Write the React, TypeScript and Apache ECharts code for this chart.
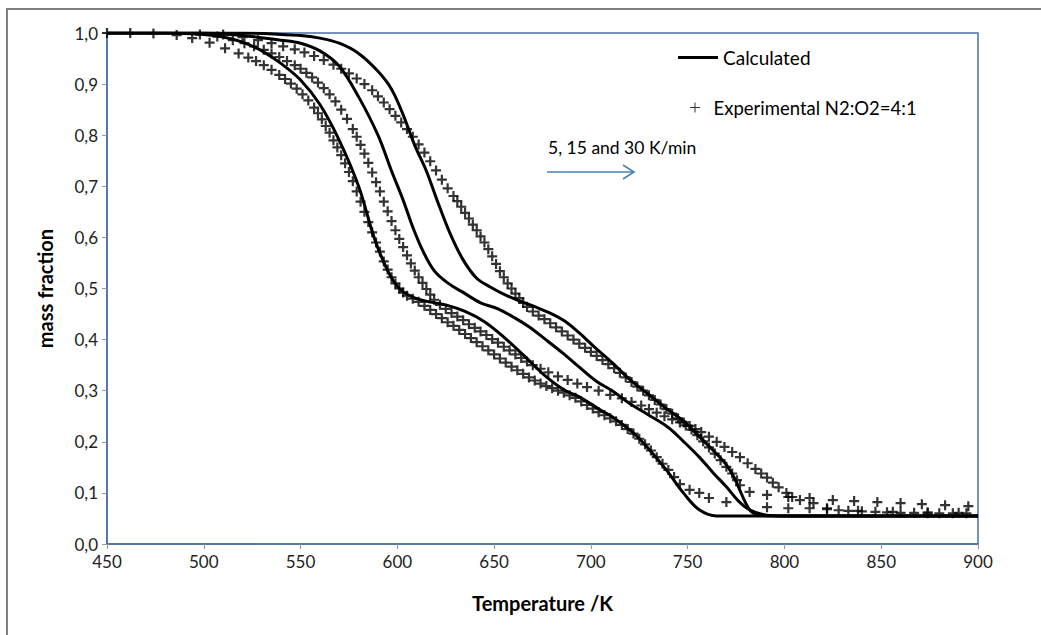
import React, { useEffect, useRef } from "react";
import * as echarts from "echarts";

// Tick labels
const xTicks = [450, 500, 550, 600, 650, 700, 750, 800, 850, 900];
const yTicks = [0, 0.1, 0.2, 0.3, 0.4, 0.5, 0.6, 0.7, 0.8, 0.9, 1.0];

// Calculated curves [T (K), mass fraction]
const calc5: number[][] = [
  [450, 1.0], [480, 1.0], [500, 0.997], [510, 0.992], [520, 0.982], [530, 0.965], [540, 0.94],
  [550, 0.908], [560, 0.86], [570, 0.79], [580, 0.7], [588, 0.6], [595, 0.535], [601, 0.5],
  [608, 0.483], [615, 0.475], [625, 0.468], [635, 0.455], [645, 0.435], [655, 0.405],
  [665, 0.37], [677, 0.327], [686, 0.302], [694, 0.288], [705, 0.262], [711, 0.249],
  [722, 0.217], [729, 0.19], [739, 0.145], [748, 0.099], [756, 0.067], [765, 0.055],
  [800, 0.055], [900, 0.055],
];
const calc15: number[][] = [
  [450, 1.0], [500, 1.0], [520, 0.995], [540, 0.986], [550, 0.98], [560, 0.965], [570, 0.935],
  [580, 0.875], [590, 0.8], [597, 0.73], [603, 0.673], [608, 0.62], [613, 0.575],
  [619, 0.535], [626, 0.511], [635, 0.49], [643, 0.472], [652, 0.46], [660, 0.444],
  [668, 0.425], [677, 0.399], [686, 0.372], [694, 0.346], [703, 0.318], [711, 0.3],
  [720, 0.275], [730, 0.252], [740, 0.228], [748, 0.2], [756, 0.17], [763, 0.14],
  [770, 0.112], [776, 0.085], [782, 0.067], [790, 0.057], [800, 0.055], [900, 0.055],
];
const calc30: number[][] = [
  [450, 1.0], [520, 1.0], [550, 0.995], [560, 0.99], [570, 0.98], [580, 0.96], [590, 0.925],
  [597, 0.89], [603, 0.84], [609, 0.78], [615, 0.73], [620.5, 0.673], [627, 0.61],
  [634, 0.556], [641, 0.52], [648, 0.503], [656, 0.487], [665, 0.473], [672, 0.463],
  [680, 0.45], [687, 0.435], [694, 0.413], [702, 0.385], [711, 0.355], [720, 0.322],
  [729, 0.295], [739, 0.265], [748, 0.24], [756, 0.21], [764, 0.18], [770, 0.155],
  [774, 0.13], [777, 0.105], [780, 0.08], [783, 0.063], [788, 0.056], [800, 0.055], [900, 0.055],
];

// Experimental points [T (K), mass fraction]
const exp5: number[][] = [
  [450, 1.0], [462, 1.0], [474, 0.999], [486, 0.996], [494, 0.99], [503, 0.981], [511, 0.97],
  [518, 0.96], [523, 0.952], [527, 0.945], [531, 0.937], [535, 0.928], [539, 0.918],
  [542, 0.91], [545, 0.901], [548, 0.891], [551, 0.88], [554, 0.868], [557, 0.854],
  [559, 0.843], [561, 0.831], [563, 0.818], [565, 0.805], [567, 0.79], [569, 0.776],
  [571, 0.761], [573, 0.745], [575, 0.728], [577, 0.71], [579, 0.69], [581, 0.67],
  [583, 0.65], [585, 0.63], [587, 0.61], [589, 0.59], [591, 0.572], [593, 0.553],
  [595, 0.537], [597, 0.522], [599, 0.51], [601, 0.5], [603, 0.492], [605, 0.486],
  [608, 0.48], [611, 0.474], [614, 0.466], [617, 0.458], [620, 0.45], [623, 0.442],
  [626, 0.434], [629, 0.427], [632, 0.419], [635, 0.411], [638, 0.403], [641, 0.395],
  [644, 0.387], [647, 0.379], [650, 0.371], [653, 0.363], [656, 0.355], [659, 0.347],
  [662, 0.34], [665, 0.333], [668, 0.326], [671, 0.32], [674, 0.314], [677, 0.309],
  [680, 0.305], [683, 0.3], [686, 0.296], [689, 0.291], [692, 0.286], [695, 0.279],
  [698, 0.272], [701, 0.265], [704, 0.258], [707, 0.252], [710, 0.246], [713, 0.24],
  [716, 0.233], [719, 0.225], [722, 0.216], [725, 0.206], [728, 0.195], [731, 0.183],
  [734, 0.17], [737, 0.157], [740, 0.145], [743, 0.131], [746, 0.117], [751, 0.106],
  [756, 0.1], [761, 0.09], [770, 0.082], [791, 0.072], [802, 0.07], [813, 0.07],
  [822, 0.068], [838, 0.065], [856, 0.063], [874, 0.062], [890, 0.061],
];
const exp15: number[][] = [
  [498, 0.997], [507, 0.993], [515, 0.986], [521, 0.98], [526, 0.974], [531, 0.967],
  [535, 0.96], [539, 0.953], [543, 0.945], [547, 0.937], [550, 0.93], [553, 0.922],
  [556, 0.913], [559, 0.903], [562, 0.892], [565, 0.88], [568, 0.866], [571, 0.85],
  [574, 0.832], [577, 0.812], [579, 0.797], [581, 0.781], [583, 0.764], [585, 0.746],
  [587, 0.727], [589, 0.708], [591, 0.69], [593, 0.67], [595, 0.651], [597, 0.632],
  [599, 0.614], [601, 0.597], [603, 0.581], [605, 0.565], [607, 0.549], [609, 0.535],
  [611, 0.522], [613, 0.511], [615, 0.499], [617, 0.488], [619, 0.478], [622, 0.468],
  [625, 0.46], [628, 0.452], [631, 0.445], [634, 0.438], [637, 0.43], [640, 0.423],
  [643, 0.416], [646, 0.409], [649, 0.401], [652, 0.394], [655, 0.386], [658, 0.379],
  [661, 0.371], [664, 0.364], [667, 0.357], [670, 0.35], [674, 0.343], [678, 0.336],
  [683, 0.328], [688, 0.321], [693, 0.314], [698, 0.307], [704, 0.3], [710, 0.292],
  [716, 0.285], [721, 0.278], [726, 0.271], [730, 0.264], [734, 0.257], [738, 0.25],
  [742, 0.244], [746, 0.238], [749, 0.232], [752, 0.224], [755, 0.213], [758, 0.201],
  [761, 0.189], [764, 0.177], [767, 0.164], [770, 0.151], [773, 0.138], [775.5, 0.125],
  [777, 0.115], [782, 0.102], [791, 0.096], [802, 0.092], [813, 0.09], [825, 0.086],
  [836, 0.084], [848, 0.082], [860, 0.08], [871, 0.078], [883, 0.076], [895, 0.074],
];
const exp30: number[][] = [
  [510, 0.997], [520, 0.992], [528, 0.986], [535, 0.98], [541, 0.974], [547, 0.968],
  [552, 0.962], [557, 0.955], [562, 0.947], [567, 0.938], [571, 0.93], [575, 0.921],
  [579, 0.911], [583, 0.9], [587, 0.888], [590, 0.876], [593, 0.864], [596, 0.851],
  [599, 0.838], [602, 0.825], [605, 0.812], [608, 0.797], [611, 0.782], [614, 0.766],
  [617, 0.749], [620, 0.731], [623, 0.713], [626, 0.696], [629, 0.681], [631, 0.671],
  [633, 0.66], [635, 0.648], [637, 0.637], [639, 0.625], [641, 0.614], [643, 0.602],
  [645, 0.59], [647, 0.577], [649, 0.563], [651, 0.548], [653, 0.534], [655, 0.522],
  [657, 0.51], [659, 0.5], [661, 0.49], [663, 0.481], [665, 0.472], [667, 0.464],
  [670, 0.455], [673, 0.447], [676, 0.44], [679, 0.432], [682, 0.424], [685, 0.416],
  [688, 0.408], [691, 0.4], [694, 0.392], [697, 0.384], [700, 0.376], [703, 0.368],
  [706, 0.36], [709, 0.352], [712, 0.344], [715, 0.335], [718, 0.326], [721, 0.317],
  [724, 0.308], [727, 0.3], [730, 0.291], [733, 0.282], [736, 0.273], [739, 0.264],
  [742, 0.255], [745, 0.246], [748, 0.238], [751, 0.231], [754, 0.225], [757, 0.219],
  [761, 0.21], [765, 0.2], [769, 0.19], [773, 0.18], [777, 0.17], [781, 0.158],
  [785, 0.147], [788, 0.138], [791, 0.13], [794, 0.12], [797, 0.111], [801, 0.1],
  [804, 0.092], [808, 0.086], [815, 0.08], [822, 0.07], [828, 0.066], [833, 0.065],
  [840, 0.064], [847, 0.063], [853, 0.062], [860, 0.061], [867, 0.061], [874, 0.06],
  [880, 0.06], [887, 0.06], [894, 0.06],
];

const FONT = "Lato";
const PLUS = "path://M3.9,0 H6.1 V3.9 H10 V6.1 H6.1 V10 H3.9 V6.1 H0 V3.9 H3.9 Z";
const PLUS_THIN = "path://M4.5,0 H5.5 V4.5 H10 V5.5 H5.5 V10 H4.5 V5.5 H0 V4.5 H4.5 Z";
const AXIS_BLUE = "#4a6fa5";

export default function App() {
  const ref = useRef<HTMLDivElement>(null);
  useEffect(() => {
    if (!ref.current) return;
    document.body.style.margin = "0";
    document.body.style.overflow = "hidden";
    const chart = echarts.init(ref.current, null, { renderer: "svg" });
    const calcSeries = [calc5, calc15, calc30].map((d) => ({
      name: "Calculated",
      type: "line",
      data: d,
      smooth: 0.35,
      symbol: "none",
      lineStyle: { color: "#000", width: 3 },
      z: 3,
    }));
    const expSeries = [exp5, exp15, exp30].map((d) => ({
      name: "Experimental N2:O2=4:1",
      type: "scatter",
      data: d,
      symbol: PLUS,
      symbolSize: 10,
      itemStyle: { color: "#000" },
      z: 4,
    }));
    chart.setOption({
      animation: false,
      backgroundColor: "#fff",
      textStyle: { fontFamily: FONT },
      grid: {
        left: 107,
        right: 63,
        top: 33,
        bottom: 91,
        show: true,
        borderColor: AXIS_BLUE,
        borderWidth: 1.5,
        backgroundColor: "transparent",
      },
      legend: [
        {
          data: [{ name: "Calculated", icon: "rect" }],
          left: 678,
          top: 48,
          padding: 0,
          itemWidth: 40,
          itemHeight: 3,
          itemStyle: { color: "#000" },
          textStyle: { fontFamily: FONT, fontSize: 19, color: "#000" },
          selectedMode: false,
        },
        {
          data: [{ name: "Experimental N2:O2=4:1", icon: PLUS_THIN }],
          left: 690,
          top: 98,
          padding: 0,
          itemWidth: 27,
          itemHeight: 10,
          itemStyle: { color: "#000" },
          textStyle: { fontFamily: FONT, fontSize: 18.5, color: "#000" },
          selectedMode: false,
        },
      ],
      xAxis: {
        type: "value",
        min: xTicks[0],
        max: xTicks[xTicks.length - 1],
        interval: 50,
        name: "Temperature /K",
        nameLocation: "middle",
        nameGap: 49,
        nameTextStyle: { fontFamily: FONT, fontSize: 20, fontWeight: "bold", color: "#000" },
        axisLine: { show: true, lineStyle: { color: AXIS_BLUE, width: 1.5 } },
        axisTick: { show: true, length: 5, lineStyle: { color: "#999" } },
        axisLabel: { fontFamily: FONT, fontSize: 17, color: "#222", margin: 9 },
        splitLine: { show: false },
      },
      yAxis: {
        type: "value",
        min: yTicks[0],
        max: yTicks[yTicks.length - 1],
        interval: 0.1,
        name: "mass fraction",
        nameLocation: "middle",
        nameGap: 52,
        nameRotate: 90,
        nameTextStyle: { fontFamily: FONT, fontSize: 20, fontWeight: "bold", color: "#000" },
        axisLine: { show: true, lineStyle: { color: AXIS_BLUE, width: 1.5 } },
        axisTick: { show: true, length: 5, lineStyle: { color: "#999" } },
        axisLabel: {
          fontFamily: FONT,
          fontSize: 17,
          color: "#222",
          margin: 9,
          formatter: (v: number) => v.toFixed(1).replace(".", ","),
        },
        splitLine: { show: false },
      },
      graphic: [
        {
          type: "line",
          shape: { x1: 6, y1: 9, x2: 1041, y2: 9 },
          style: { stroke: "#7f7f7f", lineWidth: 2 },
          silent: true,
          z: 100,
        },
        {
          type: "line",
          shape: { x1: 7, y1: 8, x2: 7, y2: 635 },
          style: { stroke: "#7f7f7f", lineWidth: 2 },
          silent: true,
          z: 100,
        },
        {
          type: "text",
          x: 548,
          y: 147,
          style: {
            text: "5, 15 and 30 K/min",
            fontFamily: FONT,
            fontSize: 17.5,
            fill: "#000",
            textVerticalAlign: "middle",
          },
        },
        {
          type: "line",
          shape: { x1: 547, y1: 172, x2: 634, y2: 172 },
          style: { stroke: "#4a7ebb", lineWidth: 1.5 },
        },
        {
          type: "polyline",
          shape: { points: [[623, 165], [634, 172], [623, 179]] },
          style: { stroke: "#4a7ebb", lineWidth: 1.5, fill: "none" },
        },
      ],
      series: [...calcSeries, ...expSeries],
    });
    return () => chart.dispose();
  }, []);
  return <div ref={ref} style={{ width: 1041, height: 635 }} />;
}
